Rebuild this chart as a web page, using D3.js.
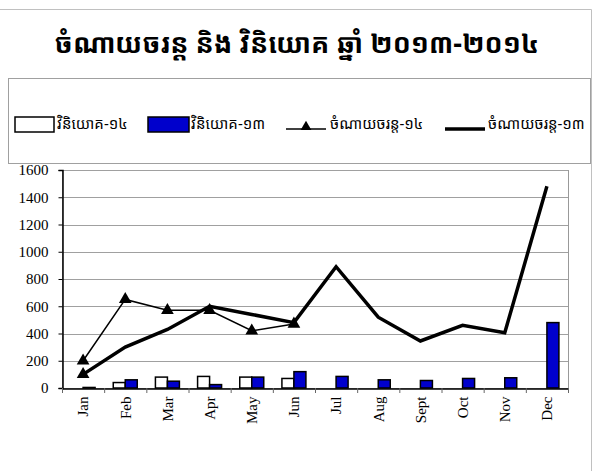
<!DOCTYPE html>
<html>
<head>
<meta charset="utf-8">
<script src="https://cdn.jsdelivr.net/npm/d3@7"></script>
<style>
  body { margin: 0; background: #fff; }
  svg { display: block; }
</style>
</head>
<body>
<div id="chart"></div>
<script>
// Expense vs investment chart 2013-2014

const months = ["Jan", "Feb", "Mar", "Apr", "May", "Jun", "Jul", "Aug", "Sept", "Oct", "Nov", "Dec"];
const invest14 = [0, 40, 80, 85, 80, 70, null, null, null, null, null, null];
const invest13 = [4, 60, 50, 25, 80, 120, 85, 60, 55, 70, 75, 480];
const expense14 = [200, 650, 570, 570, 420, 470, null, null, null, null, null, null];
const expense13 = [100, 300, 430, 600, 540, 480, 890, 520, 345, 460, 405, 1480];
const yTicks = [0, 200, 400, 600, 800, 1000, 1200, 1400, 1600];

const titleText = "ចំណាយចរន្ត និង វិនិយោគ ឆ្នាំ ២០១៣-២០១៤";
const legendLabels = ["វិនិយោគ-១៤", "វិនិយោគ-១៣", "ចំណាយចរន្ត-១៤", "ចំណាយចរន្ត-១៣"];

const width = 606;
const height = 471;
const khmerFont = "'Khmer OS', 'Noto Sans Khmer', 'Khmer UI', 'DejaVu Sans', sans-serif";
const serifFont = "'Liberation Serif', 'Times New Roman', serif";

const svg = d3.select("#chart")
    .append("svg")
    .attr("width", width)
    .attr("height", height);

// outer chart frame (top and right edges visible)
svg.append("path")
    .attr("d", `M0,9.5 H591.5 V${height}`)
    .attr("fill", "none")
    .attr("stroke", "#c0c0c0");

svg.append("text")
    .attr("x", 297)
    .attr("y", 53)
    .attr("text-anchor", "middle")
    .style("font-family", khmerFont)
    .style("font-weight", "bold")
    .style("font-size", "27px")
    .text(titleText);

// legend box
svg.append("rect")
    .attr("x", 8.5)
    .attr("y", 78.5)
    .attr("width", 582)
    .attr("height", 85)
    .attr("fill", "white")
    .attr("stroke", "#a0a0a0");

const plot = { left: 62, right: 568, top: 170, bottom: 388 };

const x = d3.scaleBand()
    .domain(months)
    .range([plot.left, plot.right]);

const y = d3.scaleLinear()
    .domain([0, 1600])
    .range([plot.bottom, plot.top]);

const barW = 12;

// plot area border
svg.append("rect")
    .attr("x", plot.left + 0.5)
    .attr("y", plot.top + 0.5)
    .attr("width", plot.right - plot.left)
    .attr("height", plot.bottom - plot.top)
    .attr("fill", "white")
    .attr("stroke", "#999");

// gridlines
svg.append("g")
    .selectAll("line")
    .data(yTicks.slice(1))
    .join("line")
    .attr("x1", plot.left)
    .attr("x2", plot.right)
    .attr("y1", d => Math.round(y(d)) + 0.5)
    .attr("y2", d => Math.round(y(d)) + 0.5)
    .attr("stroke", "#a0a0a0");

// y axis
const yAxis = svg.append("g")
    .attr("transform", `translate(${plot.left + 0.5},0)`)
    .call(d3.axisLeft(y).tickValues(yTicks).tickFormat(d3.format("d")).tickSize(4).tickPadding(10));
yAxis.select(".domain").attr("stroke", "black").attr("stroke-width", 1.5);
yAxis.selectAll("text")
    .style("font-family", serifFont)
    .style("font-size", "15px")
    .attr("fill", "black");

// bars
svg.append("g")
    .selectAll("rect")
    .data(months.map((m, i) => ({ m, v: invest14[i] })).filter(d => d.v != null))
    .join("rect")
    .attr("x", d => x(d.m) + x.bandwidth() / 2 - barW)
    .attr("y", d => y(d.v))
    .attr("width", barW)
    .attr("height", d => y(0) - y(d.v))
    .attr("fill", "white")
    .attr("stroke", "black")
    .attr("stroke-width", 1.5);

svg.append("g")
    .selectAll("rect")
    .data(months.map((m, i) => ({ m, v: invest13[i] })))
    .join("rect")
    .attr("x", d => x(d.m) + x.bandwidth() / 2)
    .attr("y", d => y(d.v))
    .attr("width", barW)
    .attr("height", d => y(0) - y(d.v))
    .attr("fill", "#0000cc")
    .attr("stroke", "black")
    .attr("stroke-width", 1.5);

// x axis
const xAxis = svg.append("g")
    .attr("transform", `translate(0,${plot.bottom + 0.5})`)
    .call(d3.axisBottom(x).tickSize(0).tickPadding(0));
xAxis.select(".domain").attr("stroke", "black").attr("stroke-width", 1.5);
xAxis.selectAll("text")
    .attr("transform", "rotate(-90)")
    .attr("x", -8)
    .attr("y", 0)
    .attr("dy", "0.35em")
    .attr("text-anchor", "end")
    .style("font-family", serifFont)
    .style("font-size", "15px")
    .attr("fill", "black");

// ticks between categories
svg.append("g")
    .selectAll("line")
    .data(months.concat(["end"]))
    .join("line")
    .attr("x1", (d, i) => plot.left + i * x.step() + 0.5)
    .attr("x2", (d, i) => plot.left + i * x.step() + 0.5)
    .attr("y1", plot.bottom)
    .attr("y2", plot.bottom + 5)
    .attr("stroke", "#666");

// lines
const line = d3.line()
    .defined(d => d.v != null)
    .x(d => x(d.m) + x.bandwidth() / 2)
    .y(d => y(d.v));

const pts13 = months.map((m, i) => ({ m, v: expense13[i] }));
const pts14 = months.map((m, i) => ({ m, v: expense14[i] }));

svg.append("path")
    .datum(pts13)
    .attr("d", line)
    .attr("fill", "none")
    .attr("stroke", "black")
    .attr("stroke-width", 3.5)
    .attr("stroke-linejoin", "miter");

svg.append("path")
    .datum(pts14)
    .attr("d", line)
    .attr("fill", "none")
    .attr("stroke", "black")
    .attr("stroke-width", 1.5);

const tri = d3.symbol().type(d3.symbolTriangle).size(70);

svg.append("g")
    .selectAll("path")
    .data(pts14.filter(d => d.v != null).concat([pts13[0]]))
    .join("path")
    .attr("transform", d => `translate(${x(d.m) + x.bandwidth() / 2},${y(d.v)})`)
    .attr("d", tri)
    .attr("fill", "black");

// legend items
const legendY = 124;
const legend = svg.append("g").style("font-family", khmerFont).style("font-size", "15px");

legend.append("rect").attr("x", 15).attr("y", legendY - 7).attr("width", 39).attr("height", 15)
    .attr("fill", "white").attr("stroke", "black").attr("stroke-width", 1.5);
legend.append("text").attr("x", 57).attr("y", legendY).attr("dy", "0.3em").text(legendLabels[0]);

legend.append("rect").attr("x", 148).attr("y", legendY - 7).attr("width", 41).attr("height", 15)
    .attr("fill", "#0000cc").attr("stroke", "black").attr("stroke-width", 1.5);
legend.append("text").attr("x", 191).attr("y", legendY).attr("dy", "0.3em").text(legendLabels[1]);

legend.append("line").attr("x1", 286).attr("x2", 326).attr("y1", legendY + 5).attr("y2", legendY + 5)
    .attr("stroke", "black").attr("stroke-width", 1.5);
legend.append("path").attr("transform", `translate(306,${legendY + 3})`).attr("d", tri.size(50)).attr("fill", "black");
legend.append("text").attr("x", 330).attr("y", legendY).attr("dy", "0.3em").text(legendLabels[2]);

legend.append("line").attr("x1", 445).attr("x2", 485).attr("y1", legendY + 5).attr("y2", legendY + 5)
    .attr("stroke", "black").attr("stroke-width", 3.5);
legend.append("text").attr("x", 488).attr("y", legendY).attr("dy", "0.3em").text(legendLabels[3]);
</script>
</body>
</html>
